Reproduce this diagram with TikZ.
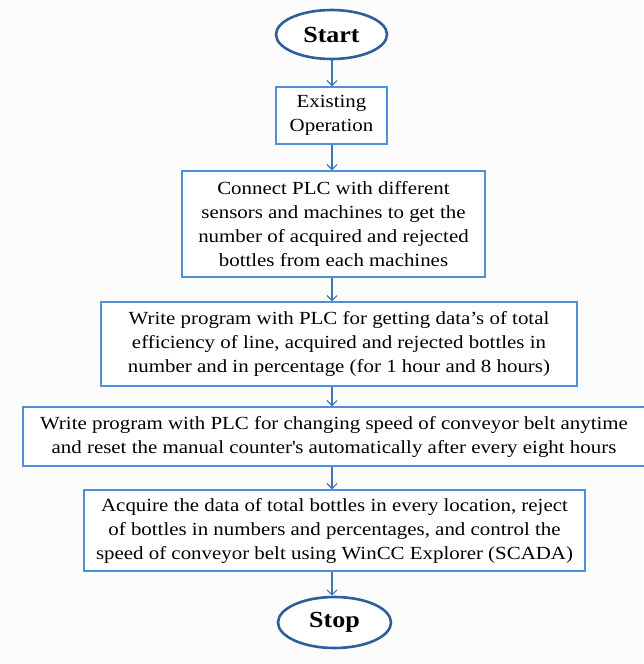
\documentclass[tikz,border=0pt]{standalone}
\usepackage{fontspec}
\setmainfont{Liberation Serif}[FakeStretch=1.13]
\usetikzlibrary{arrows.meta,shapes.geometric}
\definecolor{boxblue}{HTML}{4F8FD6}
\definecolor{ellblue}{HTML}{2E5F9A}
\definecolor{arrblue}{HTML}{3E74B8}
\tikzset{
  procbox/.style={draw=boxblue, line width=1.4pt, fill=white, align=center, inner sep=0pt,
    font=\fontsize{18.5}{24}\selectfont},
  termell/.style={ellipse, draw=ellblue, line width=2.6pt, fill=white, inner sep=0pt,
    font=\fontsize{23}{26}\selectfont\bfseries},
  flow/.style={draw=arrblue, line width=1.2pt, -{Straight Barb[length=5pt,width=10pt,line width=1.1pt]}}
}
\begin{document}
\begin{tikzpicture}[x=1pt,y=-1pt]
\useasboundingbox (0,0) rectangle (643,664);
\fill[white!98!gray] (0,0) rectangle (643,664);
\node[termell, minimum width=111, minimum height=49] (start) at (331.5,34.5) {Start};
\node[procbox, minimum width=111, minimum height=57] (b1) at (331.5,115.5) {Existing\\Operation};
\node[procbox, minimum width=303, minimum height=106] (b2) at (333.5,224) {Connect PLC with different\\sensors and machines to get the\\number of acquired and rejected\\bottles from each machines};
\node[procbox, minimum width=476, minimum height=84] (b3) at (339,344) {Write program with PLC for getting data’s of total\\efficiency of line, acquired and rejected bottles in\\number and in percentage (for 1 hour and 8 hours)};
\node[procbox, minimum width=622, minimum height=59] (b4) at (334,436.5) {Write program with PLC for changing speed of conveyor belt anytime\\and reset the manual counter\textquotesingle s automatically after every eight hours};
\node[procbox, minimum width=501, minimum height=81] (b5) at (334.5,530.5) {Acquire the data of total bottles in every location, reject\\of bottles in numbers and percentages, and control the\\speed of conveyor belt using WinCC Explorer (SCADA)};
\node[termell, minimum width=113, minimum height=51] (stop) at (334.5,622.5) {Stop};
\coordinate (x0) at (332,0);
\draw[flow] (x0 |- start.south) -- (x0 |- b1.north);
\draw[flow] (x0 |- b1.south) -- (x0 |- b2.north);
\draw[flow] (x0 |- b2.south) -- (x0 |- b3.north);
\draw[flow] (x0 |- b3.south) -- (x0 |- b4.north);
\draw[flow] (x0 |- b4.south) -- (x0 |- b5.north);
\draw[flow] (x0 |- b5.south) -- (x0 |- stop.north);
\end{tikzpicture}
\end{document}
